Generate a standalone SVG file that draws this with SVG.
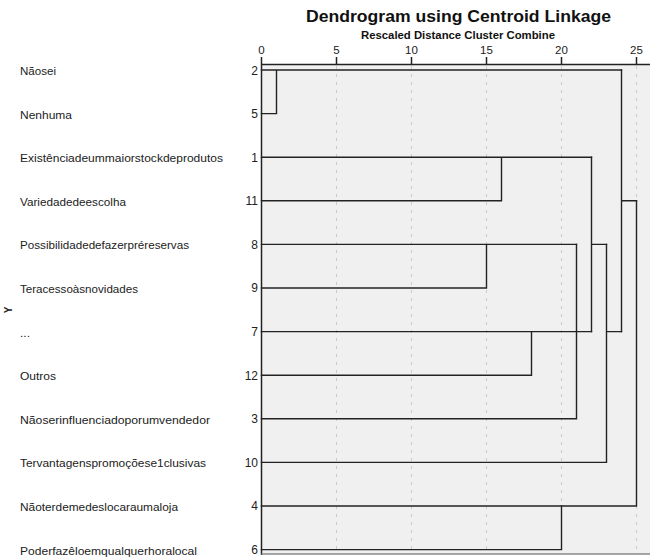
<svg xmlns="http://www.w3.org/2000/svg" width="650" height="560" viewBox="0 0 650 560">
<style>
.title{font-family:"Liberation Sans",Arial,sans-serif;font-weight:bold;fill:#111;text-anchor:middle}
.tick{font-family:"Liberation Sans",Arial,sans-serif;font-size:11.5px;fill:#222;text-anchor:middle}
.lbl{font-family:"Liberation Sans",Arial,sans-serif;font-size:11px;fill:#222}
.num{font-family:"Liberation Sans",Arial,sans-serif;font-size:12px;fill:#222;text-anchor:end}
.grid{stroke:#cacaca;stroke-width:1;stroke-dasharray:3 5;fill:none}
.link{stroke:#222;stroke-width:1.4;fill:none;stroke-linecap:square}
.axis{stroke:#222;stroke-width:1.5;fill:none}
</style>
<rect width="650" height="560" fill="#ffffff"/>
<text class="title" x="458.5" y="22" font-size="16.5" textLength="305" lengthAdjust="spacingAndGlyphs">Dendrogram using Centroid Linkage</text>
<text class="title" x="458" y="38.5" font-size="10.5" textLength="194" lengthAdjust="spacingAndGlyphs">Rescaled Distance Cluster Combine</text>
<rect x="261.5" y="64.5" width="390" height="489.5" fill="#f0f0f0"/>
<g id="grid">
<path class="grid" d="M336.5 66V553 M411.5 66V553 M486.5 66V553 M561.5 66V553 M636.5 66V553"/>
</g>
<g id="axis">
<path class="axis" d="M261.5 64.5H650 M261.5 57V555 M336.5 57V64.5 M411.5 57V64.5 M486.5 57V64.5 M561.5 57V64.5 M636.5 57V64.5"/>
<path d="M261.5 554H650" stroke="#8a8a8a" stroke-width="1.5"/>
<text class="tick" x="261.5" y="54">0</text>
<text class="tick" x="336.5" y="54">5</text>
<text class="tick" x="411.5" y="54">10</text>
<text class="tick" x="486.5" y="54">15</text>
<text class="tick" x="561.5" y="54">20</text>
<text class="tick" x="636.5" y="54">25</text>
</g>
<text x="12" y="310" transform="rotate(-90 12 310)" font-family="Liberation Sans,Arial,sans-serif" font-size="10" font-weight="bold" fill="#222" text-anchor="middle">Y</text>
<g id="leaf-2"><text class="lbl" x="20" y="75" textLength="36" lengthAdjust="spacingAndGlyphs">Nãosei</text><text class="num" x="258" y="74.5">2</text></g>
<g id="leaf-5"><text class="lbl" x="20" y="118.6" textLength="52" lengthAdjust="spacingAndGlyphs">Nenhuma</text><text class="num" x="258" y="118">5</text></g>
<g id="leaf-1"><text class="lbl" x="20" y="162.2" textLength="203" lengthAdjust="spacingAndGlyphs">Existênciadeummaiorstockdeprodutos</text><text class="num" x="258" y="161.6">1</text></g>
<g id="leaf-11"><text class="lbl" x="20" y="205.8" textLength="106" lengthAdjust="spacingAndGlyphs">Variedadedeescolha</text><text class="num" x="258" y="205.2">11</text></g>
<g id="leaf-8"><text class="lbl" x="20" y="249.4" textLength="169" lengthAdjust="spacingAndGlyphs">Possibilidadedefazerpréreservas</text><text class="num" x="258" y="248.8">8</text></g>
<g id="leaf-9"><text class="lbl" x="20" y="293" textLength="118" lengthAdjust="spacingAndGlyphs">Teracessoàsnovidades</text><text class="num" x="258" y="292.4">9</text></g>
<g id="leaf-7"><text class="lbl" x="20" y="336.6" textLength="10" lengthAdjust="spacingAndGlyphs">...</text><text class="num" x="258" y="336">7</text></g>
<g id="leaf-12"><text class="lbl" x="20" y="380.2" textLength="36" lengthAdjust="spacingAndGlyphs">Outros</text><text class="num" x="258" y="379.6">12</text></g>
<g id="leaf-3"><text class="lbl" x="20" y="423.8" textLength="190" lengthAdjust="spacingAndGlyphs">Nãoserinfluenciadoporumvendedor</text><text class="num" x="258" y="423.2">3</text></g>
<g id="leaf-10"><text class="lbl" x="20" y="467.4" textLength="186" lengthAdjust="spacingAndGlyphs">Tervantagenspromoçõese1clusivas</text><text class="num" x="258" y="466.8">10</text></g>
<g id="leaf-4"><text class="lbl" x="20" y="511" textLength="158" lengthAdjust="spacingAndGlyphs">Nãoterdemedeslocaraumaloja</text><text class="num" x="258" y="510.4">4</text></g>
<g id="leaf-6"><text class="lbl" x="20" y="554.6" textLength="177" lengthAdjust="spacingAndGlyphs">Poderfazêloemqualquerhoralocal</text><text class="num" x="258" y="554">6</text></g>
<g id="connectors">
<path class="link" d="M261.5 70H621.5 M261.5 113.6H276.5 M276.5 70V113.6"/>
<path class="link" d="M261.5 157.2H591.5 M261.5 200.8H501.5 M501.5 157.2V200.8"/>
<path class="link" d="M261.5 244.4H576.5 M261.5 288H486.5 M486.5 244.4V288"/>
<path class="link" d="M261.5 331.6H591.5 M261.5 375.2H531.5 M531.5 331.6V375.2"/>
<path class="link" d="M261.5 418.8H576.5 M576.5 244.4V418.8"/>
<path class="link" d="M591.5 157.2V331.6 M591.5 244.4H606.5"/>
<path class="link" d="M261.5 462.4H606.5 M606.5 244.4V462.4 M606.5 331.6H621.5"/>
<path class="link" d="M621.5 70V331.6 M621.5 200.8H636.5"/>
<path class="link" d="M261.5 506H636.5 M636.5 200.8V506"/>
<path class="link" d="M261.5 549.6H561.5 M561.5 506V549.6"/>
</g>
</svg>
